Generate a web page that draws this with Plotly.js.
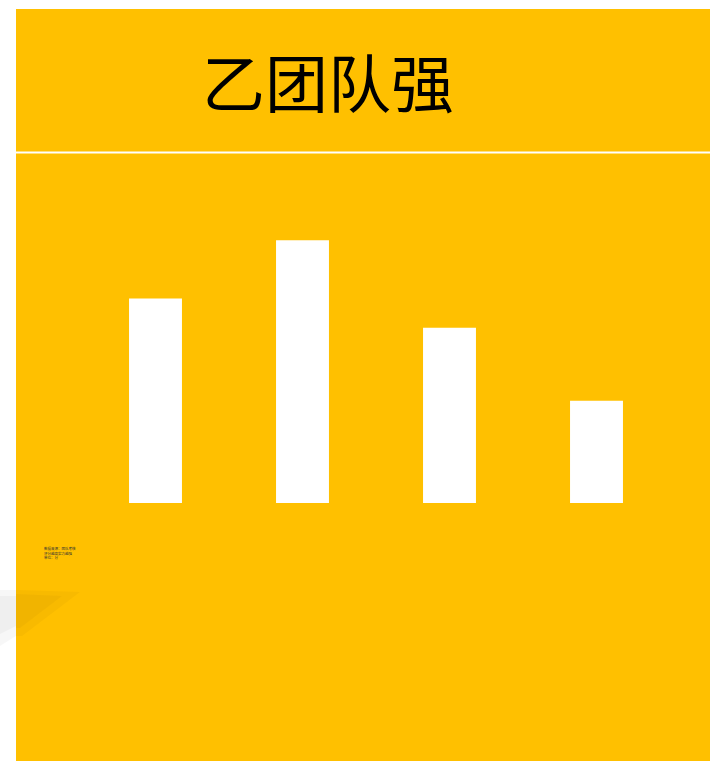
<!DOCTYPE html>
<html>
<head>
<meta charset="utf-8">
<script src="https://cdn.plot.ly/plotly-3.0.1.min.js"></script>
<style>
html,body{margin:0;padding:0;background:#ffffff;}
#chart{width:710px;height:761px;}
</style>
</head>
<body>
<div id="chart"></div>
<script>
const categories = ['甲团队', '乙团队', '丙团队', '丁团队'];
const scores = [3.5, 4.5, 3.0, 1.75];
const titleText = '乙团队强';
const noteText = '数据来源：团队考核<br>评分越高实力越强<br>单位：分';

const W = 710, H = 761;
const L = 82, R = 40, T = 211, PH = 292;
const B = H - T - PH;
const PW = W - L - R;
const px = x => (x - L) / PW;
const py = y => (T + PH - y) / PH;

const trace = {
  type: 'bar',
  x: categories,
  y: scores,
  marker: {color: '#ffffff', line: {width: 0}},
  hoverinfo: 'x+y'
};

const shapes = [
  {type: 'rect', xref: 'paper', yref: 'paper', layer: 'below',
   x0: px(16), x1: px(710), y0: py(761), y1: py(9),
   fillcolor: '#FFC000', line: {width: 0}},
  {type: 'path', xref: 'paper', yref: 'paper', layer: 'below',
   path: `M ${px(0)} ${py(590)} L ${px(16)} ${py(590)} L ${px(16)} ${py(636)} L ${px(0)} ${py(646)} Z`,
   fillcolor: 'rgba(0,0,0,0.03)', line: {width: 0}},
  {type: 'path', xref: 'paper', yref: 'paper', layer: 'below',
   path: `M ${px(0)} ${py(596)} L ${px(16)} ${py(596)} L ${px(16)} ${py(626)} L ${px(0)} ${py(634)} Z`,
   fillcolor: 'rgba(0,0,0,0.03)', line: {width: 0}},
  {type: 'path', xref: 'paper', yref: 'paper', layer: 'below',
   path: `M ${px(16)} ${py(590)} L ${px(80)} ${py(592)} L ${px(22)} ${py(636)} L ${px(16)} ${py(636)} Z`,
   fillcolor: 'rgba(120,80,0,0.05)', line: {width: 0}},
  {type: 'path', xref: 'paper', yref: 'paper', layer: 'below',
   path: `M ${px(16)} ${py(594)} L ${px(62)} ${py(596)} L ${px(20)} ${py(628)} L ${px(16)} ${py(628)} Z`,
   fillcolor: 'rgba(120,80,0,0.05)', line: {width: 0}},
  {type: 'line', xref: 'paper', yref: 'paper',
   x0: px(16), x1: px(710), y0: py(152.5), y1: py(152.5),
   line: {color: '#ffffff', width: 2}}
];

const layout = {
  width: W, height: H,
  margin: {l: L, r: R, t: T, b: B, pad: 0},
  paper_bgcolor: '#ffffff',
  plot_bgcolor: 'rgba(0,0,0,0)',
  showlegend: false,
  bargap: 0.64,
  title: {
    text: titleText,
    font: {family: '"Noto Sans CJK SC", sans-serif', size: 63, color: '#000000'},
    xref: 'paper', x: px(328), xanchor: 'center',
    yref: 'container', y: 1 - 85 / H, yanchor: 'middle'
  },
  xaxis: {visible: false, type: 'category', range: [-0.5, 3.5], fixedrange: true},
  yaxis: {visible: false, range: [0, 5], fixedrange: true},
  shapes: shapes,
  annotations: [{
    xref: 'paper', yref: 'paper', x: px(42), y: py(544),
    xanchor: 'left', yanchor: 'top', align: 'left', showarrow: false,
    text: noteText,
    font: {family: '"Noto Sans CJK SC", sans-serif', size: 3.5, color: '#333333'}
  }]
};

Plotly.newPlot('chart', [trace], layout, {displayModeBar: false, staticPlot: true});
</script>
</body>
</html>
